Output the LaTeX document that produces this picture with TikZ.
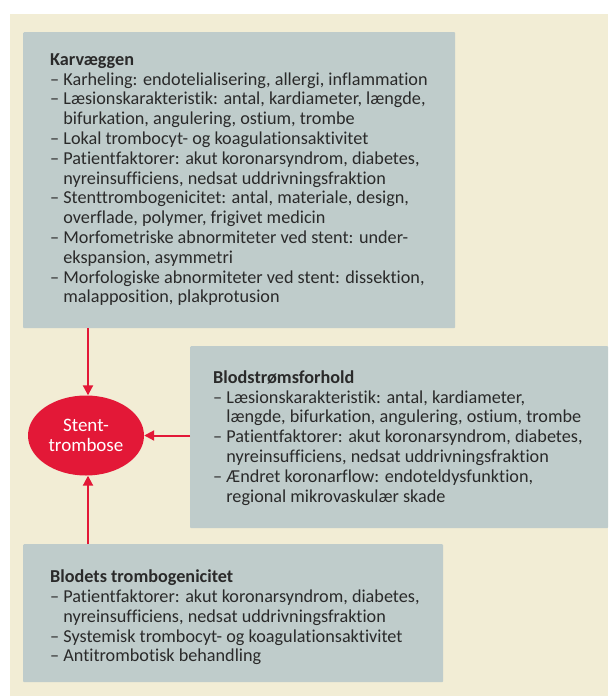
\documentclass[tikz,border=0pt]{standalone}
\usepackage{fontspec}
\setmainfont{Carlito}[Ligatures=NoCommon]
\usetikzlibrary{shapes.geometric,arrows.meta}
\definecolor{cream}{HTML}{F2EDD5}
\definecolor{boxgray}{HTML}{BFCCCB}
\definecolor{stentred}{HTML}{E31837}
\definecolor{textdark}{HTML}{2A2A2A}
\tikzset{
  panel/.style={fill=boxgray, draw=none, rounded corners=1pt, anchor=north west, inner sep=0pt},
  txt/.style={anchor=north west, inner sep=0pt, align=left, text=textdark, font=\fontsize{18.2}{19.8}\selectfont},
  arr/.style={draw=stentred, line width=2pt, -{Triangle[length=10pt,width=10pt]}},
}
\newcommand{\ind}{\phantom{– }}
\begin{document}
\begin{tikzpicture}[x=1pt,y=-1pt]
\useasboundingbox (0,0) rectangle (608,696);
\fill[white] (0,0) rectangle (608,696);
\fill[cream] (10,14) rectangle (608,696);
\node[panel, minimum width=432pt, minimum height=296pt] (k) at (23,32) {};
\node[panel, minimum width=418pt, minimum height=182pt] (b) at (190,346) {};
\node[panel, minimum width=420pt, minimum height=138pt] (c) at (23,544) {};
\node[txt] (kt) at (50,53.3) {\textbf{Karvæggen}\\
– Karheling: endotelialisering, allergi, inflammation\\
– Læsionskarakteristik: antal, kardiameter, længde,\\
\ind bifurkation, angulering, ostium, trombe\\
– Lokal trombocyt- og koagulationsaktivitet\\
– Patientfaktorer: akut koronarsyndrom, diabetes,\\
\ind nyreinsufficiens, nedsat uddrivningsfraktion\\
– Stenttrombogenicitet: antal, materiale, design,\\
\ind overflade, polymer, frigivet medicin\\
– Morfometriske abnormiteter ved stent: under-\\
\ind ekspansion, asymmetri\\
– Morfologiske abnormiteter ved stent: dissektion,\\
\ind malapposition, plakprotusion};
\node[txt] (bt) at (213,370.3) {\textbf{Blodstrømsforhold}\\
– Læsionskarakteristik: antal, kardiameter,\\
\ind længde, bifurkation, angulering, ostium, trombe\\
– Patientfaktorer: akut koronarsyndrom, diabetes,\\
\ind nyreinsufficiens, nedsat uddrivningsfraktion\\
– Ændret koronarflow: endoteldysfunktion,\\
\ind regional mikrovaskulær skade};
\node[txt] (ct) at (50,569.8) {\textbf{Blodets trombogenicitet}\\
– Patientfaktorer: akut koronarsyndrom, diabetes,\\
\ind nyreinsufficiens, nedsat uddrivningsfraktion\\
– Systemisk trombocyt- og koagulationsaktivitet\\
– Antitrombotisk behandling};
\node[ellipse, fill=stentred, inner sep=0pt, minimum width=116pt, minimum height=80pt,
      text=white, align=center, font=\fontsize{19}{19.5}\selectfont] (st) at (86,435.5) {Stent-\\trombose};
\draw[arr] ([xshift=2pt]st.north |- k.south) -- ([xshift=2pt]st.north);
\draw[arr] (b.west |- st.east) -- (st.east);
\draw[arr] ([xshift=2pt]st.south |- c.north) -- ([xshift=2pt]st.south);
\end{tikzpicture}
\end{document}
